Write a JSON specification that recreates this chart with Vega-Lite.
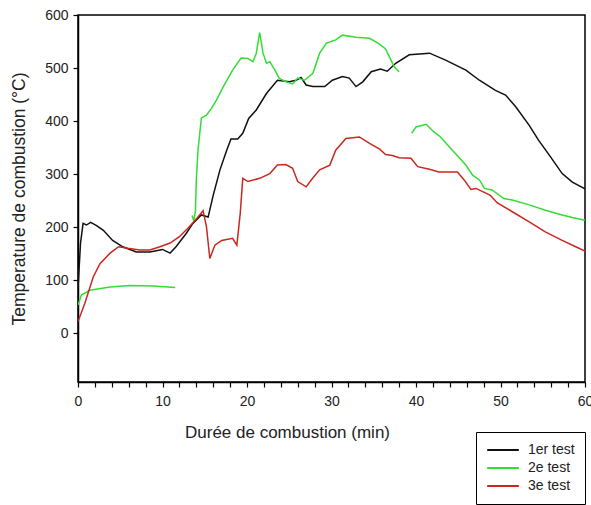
{
  "$schema": "https://vega.github.io/schema/vega-lite/v6.json",
  "width": 507,
  "height": 367,
  "autosize": {"type": "none"},
  "padding": {"left": 78, "top": 15, "right": 6, "bottom": 123},
  "background": "white",
  "config": {
    "font": "Liberation Sans",
    "view": {"stroke": "#000", "strokeWidth": 1.5}
  },
  "data": {
    "values": [
      {"test": "1er test", "seg": "a", "t": 0, "temp": 85},
      {"test": "1er test", "seg": "a", "t": 0.3, "temp": 170},
      {"test": "1er test", "seg": "a", "t": 0.6, "temp": 207},
      {"test": "1er test", "seg": "a", "t": 1.0, "temp": 204},
      {"test": "1er test", "seg": "a", "t": 1.5, "temp": 209},
      {"test": "1er test", "seg": "a", "t": 2.2, "temp": 203},
      {"test": "1er test", "seg": "a", "t": 3.0, "temp": 194},
      {"test": "1er test", "seg": "a", "t": 4.1, "temp": 175},
      {"test": "1er test", "seg": "a", "t": 5.3, "temp": 163},
      {"test": "1er test", "seg": "a", "t": 6.9, "temp": 153},
      {"test": "1er test", "seg": "a", "t": 8.5, "temp": 153},
      {"test": "1er test", "seg": "a", "t": 10.0, "temp": 158},
      {"test": "1er test", "seg": "a", "t": 10.9, "temp": 151},
      {"test": "1er test", "seg": "a", "t": 11.6, "temp": 163},
      {"test": "1er test", "seg": "a", "t": 12.8, "temp": 188},
      {"test": "1er test", "seg": "a", "t": 13.6, "temp": 207},
      {"test": "1er test", "seg": "a", "t": 14.6, "temp": 223},
      {"test": "1er test", "seg": "a", "t": 15.4, "temp": 219},
      {"test": "1er test", "seg": "a", "t": 16.0, "temp": 260},
      {"test": "1er test", "seg": "a", "t": 16.8, "temp": 308},
      {"test": "1er test", "seg": "a", "t": 17.6, "temp": 345},
      {"test": "1er test", "seg": "a", "t": 18.1, "temp": 366},
      {"test": "1er test", "seg": "a", "t": 18.9, "temp": 366},
      {"test": "1er test", "seg": "a", "t": 19.5, "temp": 377},
      {"test": "1er test", "seg": "a", "t": 20.2, "temp": 405},
      {"test": "1er test", "seg": "a", "t": 21.1, "temp": 421},
      {"test": "1er test", "seg": "a", "t": 22.3, "temp": 452},
      {"test": "1er test", "seg": "a", "t": 23.6, "temp": 477},
      {"test": "1er test", "seg": "a", "t": 25.0, "temp": 474},
      {"test": "1er test", "seg": "a", "t": 25.8, "temp": 477},
      {"test": "1er test", "seg": "a", "t": 26.4, "temp": 482},
      {"test": "1er test", "seg": "a", "t": 27.0, "temp": 468},
      {"test": "1er test", "seg": "a", "t": 27.8, "temp": 465},
      {"test": "1er test", "seg": "a", "t": 29.2, "temp": 465},
      {"test": "1er test", "seg": "a", "t": 30.1, "temp": 477},
      {"test": "1er test", "seg": "a", "t": 31.3, "temp": 484},
      {"test": "1er test", "seg": "a", "t": 32.1, "temp": 481},
      {"test": "1er test", "seg": "a", "t": 32.9, "temp": 465},
      {"test": "1er test", "seg": "a", "t": 33.7, "temp": 474},
      {"test": "1er test", "seg": "a", "t": 34.7, "temp": 493},
      {"test": "1er test", "seg": "a", "t": 35.8, "temp": 498},
      {"test": "1er test", "seg": "a", "t": 36.6, "temp": 494},
      {"test": "1er test", "seg": "a", "t": 37.6, "temp": 509},
      {"test": "1er test", "seg": "a", "t": 39.2, "temp": 525},
      {"test": "1er test", "seg": "a", "t": 41.6, "temp": 528},
      {"test": "1er test", "seg": "a", "t": 43.5, "temp": 515},
      {"test": "1er test", "seg": "a", "t": 45.9, "temp": 496},
      {"test": "1er test", "seg": "a", "t": 47.5, "temp": 477},
      {"test": "1er test", "seg": "a", "t": 49.4, "temp": 458},
      {"test": "1er test", "seg": "a", "t": 50.6, "temp": 449},
      {"test": "1er test", "seg": "a", "t": 51.8, "temp": 427},
      {"test": "1er test", "seg": "a", "t": 53.4, "temp": 392},
      {"test": "1er test", "seg": "a", "t": 54.5, "temp": 364},
      {"test": "1er test", "seg": "a", "t": 55.9, "temp": 333},
      {"test": "1er test", "seg": "a", "t": 57.3, "temp": 301},
      {"test": "1er test", "seg": "a", "t": 58.5, "temp": 285},
      {"test": "1er test", "seg": "a", "t": 60.0, "temp": 272},

      {"test": "2e test", "seg": "a", "t": 0, "temp": 53},
      {"test": "2e test", "seg": "a", "t": 0.4, "temp": 72},
      {"test": "2e test", "seg": "a", "t": 1.4, "temp": 81},
      {"test": "2e test", "seg": "a", "t": 3.8, "temp": 87},
      {"test": "2e test", "seg": "a", "t": 6.1, "temp": 90},
      {"test": "2e test", "seg": "a", "t": 8.9, "temp": 89},
      {"test": "2e test", "seg": "a", "t": 11.5, "temp": 86},
      {"test": "2e test", "seg": "b", "t": 13.5, "temp": 222},
      {"test": "2e test", "seg": "b", "t": 13.7, "temp": 212},
      {"test": "2e test", "seg": "b", "t": 13.9, "temp": 230},
      {"test": "2e test", "seg": "b", "t": 14.0, "temp": 289},
      {"test": "2e test", "seg": "b", "t": 14.2, "temp": 345},
      {"test": "2e test", "seg": "b", "t": 14.6, "temp": 406},
      {"test": "2e test", "seg": "b", "t": 15.2, "temp": 411},
      {"test": "2e test", "seg": "b", "t": 15.8, "temp": 424},
      {"test": "2e test", "seg": "b", "t": 16.4, "temp": 440},
      {"test": "2e test", "seg": "b", "t": 17.2, "temp": 465},
      {"test": "2e test", "seg": "b", "t": 18.3, "temp": 496},
      {"test": "2e test", "seg": "b", "t": 19.3, "temp": 519},
      {"test": "2e test", "seg": "b", "t": 20.1, "temp": 518},
      {"test": "2e test", "seg": "b", "t": 20.7, "temp": 512},
      {"test": "2e test", "seg": "b", "t": 21.1, "temp": 528},
      {"test": "2e test", "seg": "b", "t": 21.5, "temp": 567},
      {"test": "2e test", "seg": "b", "t": 21.9, "temp": 528},
      {"test": "2e test", "seg": "b", "t": 22.3, "temp": 509},
      {"test": "2e test", "seg": "b", "t": 22.7, "temp": 512},
      {"test": "2e test", "seg": "b", "t": 23.3, "temp": 496},
      {"test": "2e test", "seg": "b", "t": 23.8, "temp": 481},
      {"test": "2e test", "seg": "b", "t": 24.6, "temp": 474},
      {"test": "2e test", "seg": "b", "t": 25.4, "temp": 470},
      {"test": "2e test", "seg": "b", "t": 26.0, "temp": 481},
      {"test": "2e test", "seg": "b", "t": 26.8, "temp": 477},
      {"test": "2e test", "seg": "b", "t": 27.8, "temp": 490},
      {"test": "2e test", "seg": "b", "t": 28.6, "temp": 528},
      {"test": "2e test", "seg": "b", "t": 29.4, "temp": 547},
      {"test": "2e test", "seg": "b", "t": 30.5, "temp": 553},
      {"test": "2e test", "seg": "b", "t": 31.3, "temp": 562},
      {"test": "2e test", "seg": "b", "t": 32.9, "temp": 558},
      {"test": "2e test", "seg": "b", "t": 34.5, "temp": 556},
      {"test": "2e test", "seg": "b", "t": 35.6, "temp": 546},
      {"test": "2e test", "seg": "b", "t": 36.4, "temp": 536},
      {"test": "2e test", "seg": "b", "t": 37.4, "temp": 503},
      {"test": "2e test", "seg": "b", "t": 38.0, "temp": 493},
      {"test": "2e test", "seg": "c", "t": 39.5, "temp": 377},
      {"test": "2e test", "seg": "c", "t": 40.0, "temp": 389},
      {"test": "2e test", "seg": "c", "t": 41.2, "temp": 394},
      {"test": "2e test", "seg": "c", "t": 42.1, "temp": 380},
      {"test": "2e test", "seg": "c", "t": 42.9, "temp": 370},
      {"test": "2e test", "seg": "c", "t": 44.3, "temp": 345},
      {"test": "2e test", "seg": "c", "t": 45.9, "temp": 317},
      {"test": "2e test", "seg": "c", "t": 46.7, "temp": 298},
      {"test": "2e test", "seg": "c", "t": 47.5, "temp": 289},
      {"test": "2e test", "seg": "c", "t": 48.1, "temp": 273},
      {"test": "2e test", "seg": "c", "t": 49.0, "temp": 270},
      {"test": "2e test", "seg": "c", "t": 50.4, "temp": 254},
      {"test": "2e test", "seg": "c", "t": 51.4, "temp": 251},
      {"test": "2e test", "seg": "c", "t": 53.4, "temp": 242},
      {"test": "2e test", "seg": "c", "t": 55.3, "temp": 232},
      {"test": "2e test", "seg": "c", "t": 57.3, "temp": 223},
      {"test": "2e test", "seg": "c", "t": 58.5, "temp": 218},
      {"test": "2e test", "seg": "c", "t": 60.0, "temp": 213},

      {"test": "3e test", "seg": "a", "t": 0, "temp": 22},
      {"test": "3e test", "seg": "a", "t": 0.8, "temp": 56},
      {"test": "3e test", "seg": "a", "t": 1.8, "temp": 106},
      {"test": "3e test", "seg": "a", "t": 2.6, "temp": 131},
      {"test": "3e test", "seg": "a", "t": 3.8, "temp": 151},
      {"test": "3e test", "seg": "a", "t": 4.8, "temp": 163},
      {"test": "3e test", "seg": "a", "t": 5.9, "temp": 160},
      {"test": "3e test", "seg": "a", "t": 7.3, "temp": 157},
      {"test": "3e test", "seg": "a", "t": 8.5, "temp": 157},
      {"test": "3e test", "seg": "a", "t": 9.7, "temp": 163},
      {"test": "3e test", "seg": "a", "t": 10.9, "temp": 170},
      {"test": "3e test", "seg": "a", "t": 12.0, "temp": 182},
      {"test": "3e test", "seg": "a", "t": 13.2, "temp": 201},
      {"test": "3e test", "seg": "a", "t": 14.2, "temp": 219},
      {"test": "3e test", "seg": "a", "t": 14.8, "temp": 231},
      {"test": "3e test", "seg": "a", "t": 15.2, "temp": 201},
      {"test": "3e test", "seg": "a", "t": 15.6, "temp": 141},
      {"test": "3e test", "seg": "a", "t": 16.2, "temp": 166},
      {"test": "3e test", "seg": "a", "t": 17.0, "temp": 175},
      {"test": "3e test", "seg": "a", "t": 18.3, "temp": 179},
      {"test": "3e test", "seg": "a", "t": 18.8, "temp": 166},
      {"test": "3e test", "seg": "a", "t": 19.2, "temp": 226},
      {"test": "3e test", "seg": "a", "t": 19.5, "temp": 292},
      {"test": "3e test", "seg": "a", "t": 20.1, "temp": 286},
      {"test": "3e test", "seg": "a", "t": 21.5, "temp": 292},
      {"test": "3e test", "seg": "a", "t": 22.7, "temp": 301},
      {"test": "3e test", "seg": "a", "t": 23.6, "temp": 317},
      {"test": "3e test", "seg": "a", "t": 24.6, "temp": 318},
      {"test": "3e test", "seg": "a", "t": 25.4, "temp": 311},
      {"test": "3e test", "seg": "a", "t": 26.0, "temp": 286},
      {"test": "3e test", "seg": "a", "t": 27.0, "temp": 276},
      {"test": "3e test", "seg": "a", "t": 27.6, "temp": 289},
      {"test": "3e test", "seg": "a", "t": 28.6, "temp": 308},
      {"test": "3e test", "seg": "a", "t": 29.8, "temp": 317},
      {"test": "3e test", "seg": "a", "t": 30.5, "temp": 345},
      {"test": "3e test", "seg": "a", "t": 31.7, "temp": 367},
      {"test": "3e test", "seg": "a", "t": 33.3, "temp": 370},
      {"test": "3e test", "seg": "a", "t": 34.5, "temp": 358},
      {"test": "3e test", "seg": "a", "t": 35.7, "temp": 347},
      {"test": "3e test", "seg": "a", "t": 36.4, "temp": 337},
      {"test": "3e test", "seg": "a", "t": 37.2, "temp": 335},
      {"test": "3e test", "seg": "a", "t": 38.0, "temp": 331},
      {"test": "3e test", "seg": "a", "t": 39.4, "temp": 330},
      {"test": "3e test", "seg": "a", "t": 40.2, "temp": 314},
      {"test": "3e test", "seg": "a", "t": 41.6, "temp": 309},
      {"test": "3e test", "seg": "a", "t": 42.7, "temp": 304},
      {"test": "3e test", "seg": "a", "t": 44.9, "temp": 304},
      {"test": "3e test", "seg": "a", "t": 45.7, "temp": 289},
      {"test": "3e test", "seg": "a", "t": 46.5, "temp": 271},
      {"test": "3e test", "seg": "a", "t": 47.1, "temp": 273},
      {"test": "3e test", "seg": "a", "t": 47.9, "temp": 267},
      {"test": "3e test", "seg": "a", "t": 48.8, "temp": 260},
      {"test": "3e test", "seg": "a", "t": 49.6, "temp": 246},
      {"test": "3e test", "seg": "a", "t": 51.4, "temp": 229},
      {"test": "3e test", "seg": "a", "t": 53.4, "temp": 210},
      {"test": "3e test", "seg": "a", "t": 55.3, "temp": 191},
      {"test": "3e test", "seg": "a", "t": 57.3, "temp": 175},
      {"test": "3e test", "seg": "a", "t": 58.9, "temp": 163},
      {"test": "3e test", "seg": "a", "t": 60.0, "temp": 155}
    ]
  },
  "mark": {"type": "line", "strokeWidth": 1.5, "clip": true},
  "encoding": {
    "x": {
      "field": "t",
      "type": "quantitative",
      "scale": {"domain": [0, 60], "nice": false, "zero": false},
      "axis": {
        "title": "Durée de combustion (min)",
        "values": [0,2,4,6,8,10,12,14,16,18,20,22,24,26,28,30,32,34,36,38,40,42,44,46,48,50,52,54,56,58,60],
        "labelExpr": "datum.value % 10 === 0 ? datum.label : ''",
        "grid": false,
        "domainColor": "#000",
        "domainWidth": 1.5,
        "tickColor": "#000",
        "tickSize": 5,
        "tickWidth": 1.2,
        "labelFontSize": 14,
        "labelColor": "#222",
        "labelPadding": 7,
        "labelFlush": false,
        "labelOverlap": false,
        "titleFontSize": 17,
        "titleFontWeight": "normal",
        "titleColor": "#222",
        "titleX": 209,
        "titleY": 42,
        "titleAlign": "center",
        "titleBaseline": "top"
      }
    },
    "y": {
      "field": "temp",
      "type": "quantitative",
      "scale": {"domain": [-92, 600], "nice": false, "zero": false},
      "axis": {
        "title": "Temperature de combustion (°C)",
        "values": [0, 100, 200, 300, 400, 500, 600],
        "grid": false,
        "domainColor": "#000",
        "domainWidth": 1.5,
        "tickColor": "#000",
        "tickSize": 5,
        "tickWidth": 1.2,
        "labelFontSize": 14,
        "labelColor": "#222",
        "labelPadding": 5,
        "labelFlush": false,
        "titleFontSize": 17.5,
        "titleFontWeight": "normal",
        "titleColor": "#222",
        "titlePadding": 16
      }
    },
    "color": {
      "field": "test",
      "type": "nominal",
      "scale": {"domain": ["1er test", "2e test", "3e test"], "range": ["#111111", "#33dd33", "#c8281e"]},
      "legend": {
        "title": null,
        "orient": "none",
        "legendX": 398,
        "legendY": 417,
        "symbolType": "stroke",
        "symbolSize": 1000,
        "symbolStrokeWidth": 2,
        "labelFontSize": 14,
        "labelColor": "#222",
        "strokeColor": "#000",
        "fillColor": "white",
        "padding": 10,
        "clipHeight": 16,
        "rowPadding": 2,
        "labelOffset": 8
      }
    },
    "detail": {"field": "seg", "type": "nominal"}
  }
}
